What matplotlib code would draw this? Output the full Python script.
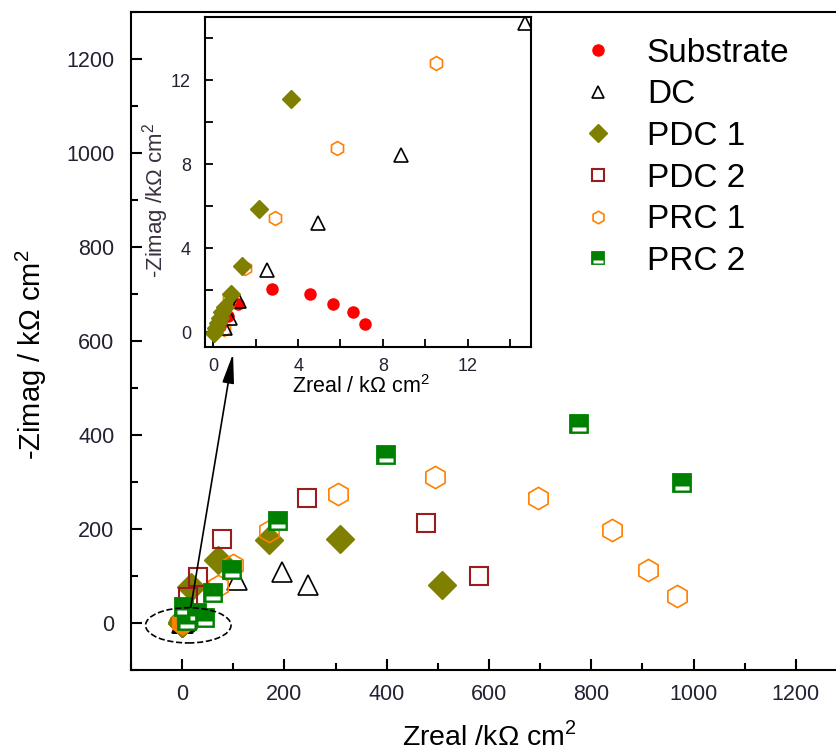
import matplotlib
matplotlib.use("Agg")
import matplotlib.pyplot as plt
from matplotlib.lines import Line2D
from matplotlib.patches import Ellipse
from matplotlib.path import Path
from matplotlib.ticker import MultipleLocator

plt.rcParams["font.family"] = ["Liberation Sans", "DejaVu Sans"]
plt.rcParams["mathtext.fontset"] = "custom"
plt.rcParams["mathtext.rm"] = "Liberation Sans"

# impedance data, kOhm cm^2
sub_x = [0.3, 0.7, 1.16, 2.75, 4.58, 5.67, 6.58, 7.16]
sub_y = [0.3, 0.8, 1.33, 2.08, 1.81, 1.33, 0.97, 0.38]

dc_x = [0.56, 0.8, 1.22, 2.52, 4.94, 8.88, 14.7, 108, 195, 246]
dc_y = [0.22, 0.7, 1.49, 2.97, 5.19, 8.43, 14.7, 91, 108, 80]

pdc1_x = [0.02, 0.1, 0.2, 0.3, 0.42, 0.55, 0.84, 1.34, 2.16, 3.64, 17, 70, 170, 309, 509]
pdc1_y = [-0.05, 0.2, 0.45, 0.7, 0.98, 1.2, 1.81, 3.16, 5.86, 11.1, 77, 135, 176, 179, 80]

pdc2_x = [12, 31, 78, 245, 476, 580]
pdc2_y = [56, 98, 179, 267, 212, 101]

prc1_x = [0.48, 0.72, 1.5, 2.91, 5.83, 10.49, 70, 99, 170, 305, 494, 695, 840, 910, 967]
prc1_y = [0.14, 1.57, 3.08, 5.46, 8.79, 12.81, 78, 124, 195, 274, 310, 266, 198, 113, 57]

prc2_x = [10, 4, 30, 44, 60, 97, 187, 399, 775, 977]
prc2_y = [4, 35, 22, 10, 63, 112, 218, 358, 423, 297]

TICK_C = "#222233"

# white bar inside the PRC 2 squares (corner moveto points keep the scale of a full square)
bar = Path([(-1, -1), (1, 1), (-0.78, -0.82), (0.78, -0.82), (0.78, -0.36), (-0.78, -0.36), (-0.78, -0.82)],
           [Path.MOVETO, Path.MOVETO, Path.MOVETO, Path.LINETO, Path.LINETO, Path.LINETO, Path.CLOSEPOLY])

fig = plt.figure(figsize=(8.36, 7.51), dpi=100)
ax = fig.add_axes([0.1567, 0.1079, 0.8565, 0.876])

styles = {
    "Substrate": dict(marker="o", color="red", mfc="red", mec="red"),
    "DC": dict(marker="^", color="black", mfc="none", mec="black", mew=1.2),
    "PDC 1": dict(marker="D", color="#808000", mfc="#808000", mec="#808000"),
    "PDC 2": dict(marker="s", color="#9b1c1c", mfc="none", mec="#9b1c1c", mew=1.5),
    "PRC 1": dict(marker="h", color="#ff8000", mfc="none", mec="#ff8000", mew=1.2),
    "PRC 2": dict(marker="s", color="#008000", mfc="#008000", mec="#008000", mew=1.3),
}
main_ms = {"Substrate": 11, "DC": 15, "PDC 1": 14, "PDC 2": 12.5, "PRC 1": 16, "PRC 2": 12.5}
series = [("Substrate", sub_x, sub_y), ("DC", dc_x, dc_y), ("PDC 1", pdc1_x, pdc1_y),
          ("PDC 2", pdc2_x, pdc2_y), ("PRC 1", prc1_x, prc1_y), ("PRC 2", prc2_x, prc2_y)]

for name, xs, ys in series:
    if name == "PRC 2":
        # draw square then its bar, point by point so overlaps stack properly
        for x, y in zip(xs, ys):
            ax.plot([x], [y], ls="none", ms=main_ms[name], **styles[name])
            ax.plot([x], [y], ls="none", marker=bar, ms=main_ms[name], mfc="white", mec="none")
    else:
        ax.plot(xs, ys, ls="none", ms=main_ms[name], **styles[name])

ax.set_xlim(-100, 1300)
ax.set_ylim(-100, 1300)
ax.xaxis.set_major_locator(MultipleLocator(200))
ax.xaxis.set_minor_locator(MultipleLocator(100))
ax.yaxis.set_major_locator(MultipleLocator(200))
ax.yaxis.set_minor_locator(MultipleLocator(100))
ax.tick_params(which="both", direction="in", width=1.5, colors="black", labelcolor=TICK_C, labelsize=15.5)
ax.tick_params(which="major", length=8)
ax.tick_params(which="minor", length=5)
ax.tick_params(axis="y", pad=12)
ax.tick_params(axis="x", pad=10)
for s in ax.spines.values():
    s.set_linewidth(1.5)
ax.set_xlabel("Zreal /k\u03a9 cm$^2$", fontsize=20.5)
ax.set_ylabel("-Zimag / k\u03a9 cm$^2$", fontsize=21)
ax.xaxis.set_label_coords(0.5, -0.078)
ax.yaxis.set_label_coords(-0.115, 0.48)

ax.add_patch(Ellipse((12, -5), 167, 75, fill=False, ec="black", ls="--", lw=1.2, zorder=6))
ax.annotate("", xy=(99.5, 573), xytext=(17, 34),
            arrowprops=dict(arrowstyle="-|>,head_length=0.9,head_width=0.18", color="black",
                            lw=1.2, shrinkA=0, shrinkB=0, mutation_scale=20), zorder=7)

# inset with the low-impedance region
ins = fig.add_axes([0.2452, 0.5379, 0.39, 0.4394])
ins_ms = {"Substrate": 8, "DC": 10, "PDC 1": 9, "PRC 1": 10}
for name, xs, ys in [series[0], series[4], series[1], series[2]]:
    ins.plot(xs, ys, ls="none", ms=ins_ms[name], **styles[name])
ins.set_xlim(-0.4, 15)
ins.set_ylim(-0.7, 15)
ins.xaxis.set_major_locator(MultipleLocator(4))
ins.xaxis.set_minor_locator(MultipleLocator(2))
ins.yaxis.set_major_locator(MultipleLocator(4))
ins.yaxis.set_minor_locator(MultipleLocator(2))
ins.tick_params(which="both", direction="in", width=1.3, length=6, labelcolor=TICK_C, labelsize=13)
ins.tick_params(axis="y", pad=10)
ins.tick_params(axis="x", pad=8)
for s in ins.spines.values():
    s.set_linewidth(1.5)
ins.set_xlabel("Zreal / k\u03a9 cm$^2$", fontsize=15.5)
ins.set_ylabel("-Zimag /k\u03a9 cm$^2$", fontsize=16, color="#3a3040")
ins.xaxis.set_label_coords(0.48, -0.085)
ins.yaxis.set_label_coords(-0.105, 0.445)

handles = []
for n, _, _ in series:
    h = Line2D([], [], ls="none", ms=9 if n != "Substrate" else 8, **styles[n])
    if n == "PRC 2":
        h = (h, Line2D([], [], ls="none", marker=bar, ms=9, mfc="white", mec="none"))
    handles.append(h)
fig.legend(handles, [n for n, _, _ in series], loc="upper left", bbox_to_anchor=(0.676, 0.972),
           frameon=False, fontsize=24, handlelength=1.0, handletextpad=0.95, labelspacing=0.32,
           borderpad=0, numpoints=1)

fig.savefig("out.png", dpi=100)
